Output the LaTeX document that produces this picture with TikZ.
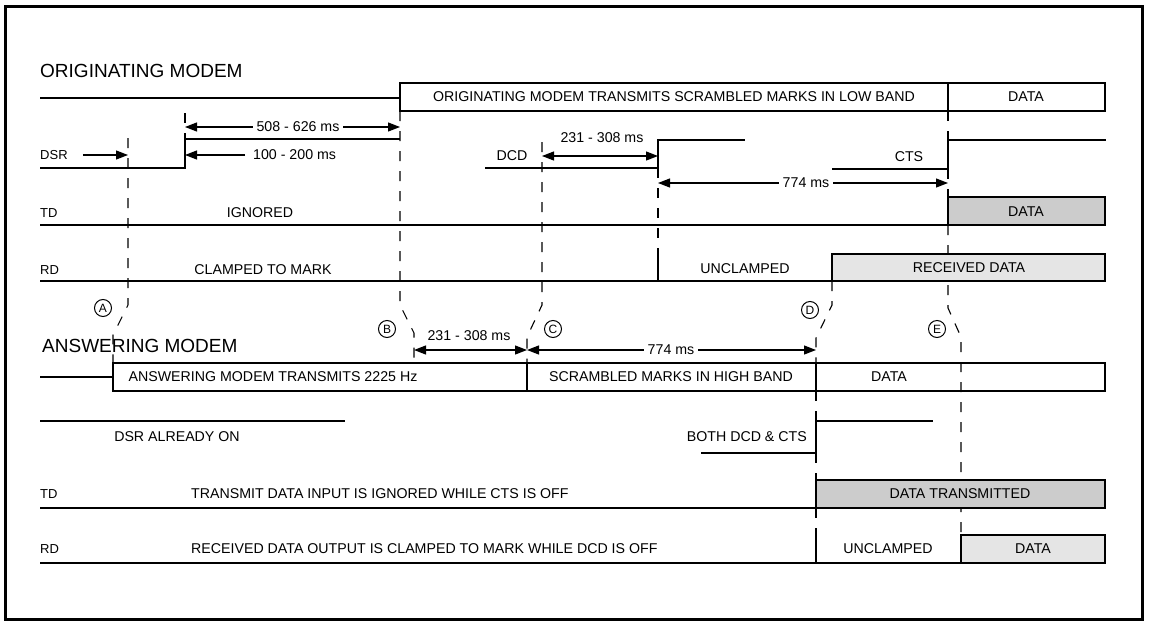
\documentclass[tikz,border=0pt]{standalone}
\usepackage{fontspec}
\setmainfont{Liberation Sans}
\usetikzlibrary{calc,positioning,arrows.meta}
\definecolor{dotdark}{gray}{0.80}
\definecolor{dotlight}{gray}{0.90}
\tikzset{
  sig/.style={line width=1.3pt, line join=miter},
  guide/.style={line width=1.1pt, dash pattern=on 10pt off 10pt},
  dimarrow/.style={line width=1.2pt,
                   {Triangle[length=12pt,width=9pt]}-{Triangle[length=12pt,width=9pt]}},
  onearrow/.style={line width=1.2pt, -{Triangle[length=12pt,width=9pt]}},
  heading/.style={font=\fontsize{19}{22}\selectfont, anchor=west, inner sep=0pt},
  desc/.style={font=\fontsize{14.2}{16}\selectfont, inner sep=1pt},
  signame/.style={font=\fontsize{13}{15}\selectfont, anchor=west, inner sep=0pt},
  gap/.style={desc, fill=white, inner sep=4pt},
  marker/.style={circle, draw, line width=1pt, minimum size=17pt,
                 inner sep=0pt, font=\fontsize{12}{13}\selectfont},
}
\begin{document}
\begin{tikzpicture}[x=1pt, y=-1pt]
\useasboundingbox (0,0) rectangle (1150,621);
\draw[line width=3pt] (5.5,6) rectangle (1142.5,619.5);

% guide lines first, so boxes and edges sit on top of them
\draw[guide] (185,113) -- (185,139);
\draw[guide] (128,138) -- (128,305) -- (113,335) -- (113,363);
\draw[guide] (400,111) -- (400,305) -- (414,333) -- (414,363);
\draw[guide] (542,142) -- (542,305) -- (527,337) -- (527,363);
\draw[guide] (658,168) -- (658,254);
\draw[guide] (832,281) -- (832,305) -- (816,338) -- (816,363);
\foreach \ya/\yb in {391/421, 453/480, 508/535}
  \draw[guide] (816,\ya) -- (816,\yb);
\foreach \ya/\yb in {111/140, 169/197}
  \draw[guide] (948,\ya) -- (948,\yb);
\draw[guide] (948,225) -- (948,308) -- (961,337) -- (961,535);

% originating modem
\node[heading] (hOrig) at (40,70.5) {ORIGINATING MODEM};
\draw[sig] (40,98) -- (400,98);
\draw[sig, fill=white] (400,83) rectangle (1105,111);
\draw[sig] (948,83) -- (948,111);
\node[desc] (txOrig) at (674,97) {ORIGINATING MODEM TRANSMITS SCRAMBLED MARKS IN LOW BAND};
\node[desc] (txOrigData) at (1026,97) {DATA};

\draw[sig] (40,168) -- (185,168) -- (185,139) -- (400,139);
\node[signame] (lDsr) at (40,155) {DSR};
\coordinate (dsrA) at (128,155);
\draw[onearrow] ([xshift=15pt]lDsr.east) -- (dsrA);
\coordinate (dsrUp) at (185,155);
\node[desc, anchor=west] (t100) at (252,155) {100 - 200 ms};
\draw[onearrow] ([xshift=-7pt]t100.west) -- (dsrUp);
\coordinate (w508) at (185,127);
\coordinate (e508) at (400,127);
\draw[dimarrow] (w508) -- (e508);
\node[gap] (t508) at (298,127) {508 - 626 ms};

\draw[sig] (485,168) -- (658,168) -- (658,140) -- (745,140);
\node[desc] (lDcd) at (512,156) {DCD};
\coordinate (w231) at (542,156);
\coordinate (e231) at (658,156);
\draw[dimarrow] (w231) -- (e231);
\node[desc] (t231) at (602,138) {231 - 308 ms};

\draw[sig] (832,169) -- (948,169) -- (948,140) -- (1106,140);
\node[desc] (lCts) at (909,157) {CTS};
\coordinate (w774) at (658,183);
\coordinate (e774) at (948,183);
\draw[dimarrow] (w774) -- (e774);
\node[gap] (t774) at (806,183) {774 ms};

\node[signame] (lTdO) at (40,213) {TD};
\node[desc] (tIgn) at (260,213) {IGNORED};
\draw[sig] (40,225) -- (948,225);
\draw[sig, fill=dotdark] (948,197) rectangle (1105,225);
\node[desc] (tdOData) at (1026,212) {DATA};

\node[signame] (lRdO) at (40,270) {RD};
\node[desc] (tClamp) at (263,270) {CLAMPED TO MARK};
\draw[sig] (40,281) -- (1105,281);
\draw[sig] (658,281) -- (658,254);
\node[desc] (tUnclO) at (745,269) {UNCLAMPED};
\draw[sig, fill=dotlight] (832,254) rectangle (1105,281);
\node[desc] (rdOData) at (969,268) {RECEIVED DATA};

% event markers
\foreach \l/\x/\y in {A/103/308, B/387/329, C/553/329, D/810/310, E/937/329}
  \node[marker] (m\l) at (\x,\y) {\l};

% answering modem
\node[heading] (hAns) at (42,346) {ANSWERING MODEM};
\coordinate (wB) at (414,350);
\coordinate (eC) at (527,350);
\coordinate (eD) at (816,350);
\draw[dimarrow] (wB) -- (eC);
\node[desc] (tAns231) at (469,336) {231 - 308 ms};
\draw[dimarrow] (eC) -- (eD);
\node[gap] (tAns774) at (671,350) {774 ms};

\draw[sig] (40,377) -- (113,377);
\draw[sig] (113,363) rectangle (1105,391);
\foreach \x in {527,816}
  \draw[sig] (\x,363) -- (\x,391);
\node[desc] (txAns) at (273,377) {ANSWERING MODEM TRANSMITS 2225 Hz};
\node[desc] (txAnsScr) at (671,377) {SCRAMBLED MARKS IN HIGH BAND};
\node[desc] (txAnsData) at (889,377) {DATA};

\draw[sig] (40,421) -- (345,421);
\node[desc] (tDsrOn) at (177,437) {DSR ALREADY ON};
\draw[sig] (701,453) -- (816,453) -- (816,421) -- (933,421);
\node[desc, anchor=east] (tBoth) at (808,437) {BOTH DCD \& CTS};

\node[signame] (lTdA) at (40,494) {TD};
\node[desc, anchor=west] (tTdA) at (190,494) {TRANSMIT DATA INPUT IS IGNORED WHILE CTS IS OFF};
\draw[sig] (40,508) -- (816,508);
\draw[sig, fill=dotdark] (816,480) rectangle (1105,508);
\node[desc] (tdAData) at (960,494) {DATA TRANSMITTED};

\node[signame] (lRdA) at (40,549) {RD};
\node[desc, anchor=west] (tRdA) at (190,549) {RECEIVED DATA OUTPUT IS CLAMPED TO MARK WHILE DCD IS OFF};
\draw[sig] (40,563) -- (1105,563);
\draw[sig] (816,563) -- (816,535);
\node[desc] (tUnclA) at (888,549) {UNCLAMPED};
\draw[sig, fill=dotlight] (961,535) rectangle (1105,563);
\node[desc] (rdAData) at (1033,549) {DATA};
\end{tikzpicture}
\end{document}
